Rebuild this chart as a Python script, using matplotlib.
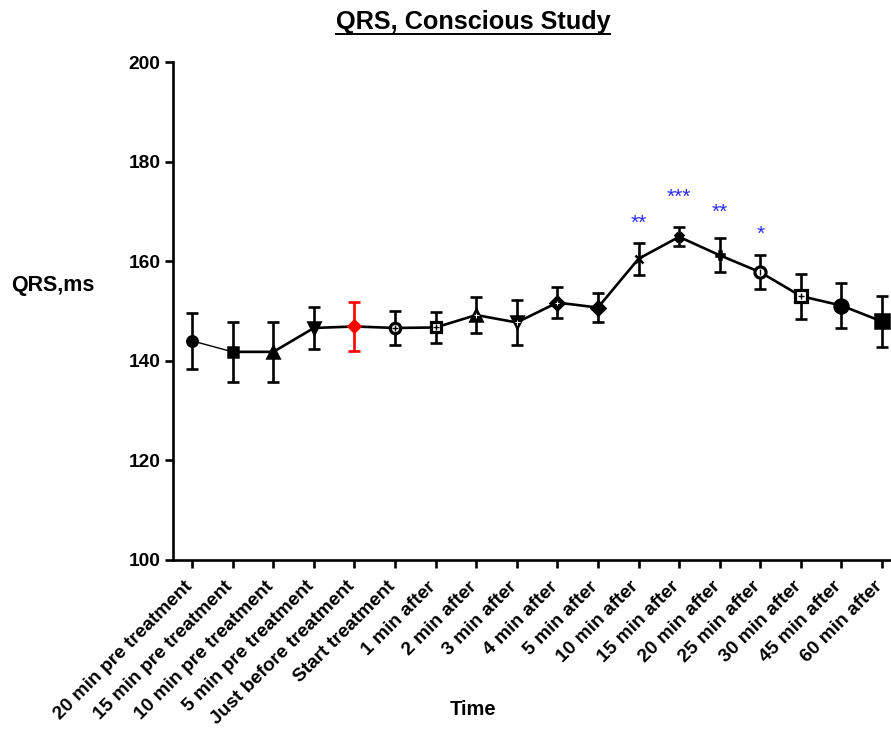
"""QRS duration over the conscious study timeline, mean +/- SEM per time point."""

import matplotlib

matplotlib.use("Agg")
import matplotlib.pyplot as plt
from matplotlib.lines import Line2D
from matplotlib.transforms import ScaledTranslation

plt.rcParams["font.family"] = ["Liberation Sans", "DejaVu Sans"]
plt.rcParams["font.weight"] = "bold"

time_points = [
    "20 min pre treatment", "15 min pre treatment", "10 min pre treatment",
    "5 min pre treatment", "Just before treatment", "Start treatment",
    "1 min after", "2 min after", "3 min after", "4 min after", "5 min after",
    "10 min after", "15 min after", "20 min after", "25 min after",
    "30 min after", "45 min after", "60 min after",
]
qrs_mean = [144.0, 141.8, 141.8, 146.6, 146.9, 146.6, 146.7, 149.2, 147.7,
            151.7, 150.7, 160.5, 164.9, 161.2, 157.8, 153.0, 151.1, 147.9]
qrs_sem = [5.6, 6.0, 6.0, 4.2, 5.0, 3.4, 3.2, 3.7, 4.5,
           3.1, 3.0, 3.2, 1.9, 3.4, 3.4, 4.5, 4.6, 5.1]

# significance marks vs. baseline: (index, label, label baseline in ms)
sig_idx = [11, 12, 13, 14]
sig_text = ["**", "***", "**", "*"]
sig_y = [166.5, 171.7, 168.7, 164.3]

# (marker, size, face, edge, overlay marker)
marker_style = [
    ("o", 7.5, "black", "black", None),
    ("s", 7, "black", "black", None),
    ("^", 8, "black", "black", None),
    ("v", 8, "black", "black", None),
    ("D", 6.5, "red", "red", None),
    ("o", 7.5, "white", "black", "+"),
    ("s", 7, "white", "black", "+"),
    ("^", 8, "black", "black", "+w"),
    ("v", 8, "black", "black", "+w"),
    ("D", 7, "black", "black", "+w"),
    ("D", 7, "black", "black", None),
    ("x", 6, "black", "black", None),
    ("X", 6, "black", "black", None),
    ("P", 6, "black", "black", None),
    ("o", 8, "white", "black", "|"),
    ("s", 8, "white", "black", "+"),
    ("o", 10, "black", "black", None),
    ("s", 9.5, "black", "black", None),
]

x = list(range(len(time_points)))

fig = plt.figure(figsize=(8.91, 7.31), dpi=100)
ax = fig.add_axes([0.194, 0.234, 0.805, 0.681])

# connecting line; the first segment is drawn thinner
ax.plot(x[:2], qrs_mean[:2], color="black", lw=1.0, zorder=2)
ax.plot(x[1:], qrs_mean[1:], color="black", lw=1.9, zorder=2)

for i, (m, ms, fc, ec, over) in enumerate(marker_style):
    col = "red" if fc == "red" else "black"
    ax.errorbar(x[i], qrs_mean[i], yerr=qrs_sem[i], fmt="none", ecolor=col,
                elinewidth=1.9, capsize=4.3, capthick=1.9, zorder=3)
    ax.plot(x[i], qrs_mean[i], marker=m, ms=ms, mfc=fc, mec=ec,
            mew=2.3 if fc == "white" else 1.8, linestyle="none", zorder=4)
    if over == "+":
        ax.plot(x[i], qrs_mean[i], marker="+", ms=ms * 0.6, color="black",
                mew=1.0, linestyle="none", zorder=5)
    elif over == "+w":
        ax.plot(x[i], qrs_mean[i], marker="+", ms=ms * 0.45, color="white",
                mew=0.7, linestyle="none", zorder=5)
    elif over == "|":
        ax.plot(x[i], qrs_mean[i], marker="|", ms=ms * 0.6, color="black",
                mew=1.0, linestyle="none", zorder=5)

for i, t, y in zip(sig_idx, sig_text, sig_y):
    ax.text(x[i], y, t, color="#2b2bff", fontsize=15, fontweight="normal",
            ha="center", va="baseline")

ax.set_xlim(-0.476, 17.2)
ax.set_ylim(100, 200)
ax.set_yticks([100, 120, 140, 160, 180, 200])
ax.set_xticks(x)

ax.spines["top"].set_visible(False)
ax.spines["right"].set_visible(False)
for s in ("left", "bottom"):
    ax.spines[s].set_linewidth(1.9)
ax.tick_params(axis="both", direction="out", length=6, width=1.9, pad=3)

ax.set_xticklabels(time_points, rotation=45, ha="right", va="top",
                   rotation_mode="anchor")
shift = ScaledTranslation(-6 / 72, -4 / 72, fig.dpi_scale_trans)
for lab in ax.get_xticklabels():
    lab.set_fontsize(13.8)
    lab.set_fontweight("bold")
    lab.set_transform(lab.get_transform() + shift)
for lab in ax.get_yticklabels():
    lab.set_fontsize(13.8)
    lab.set_fontweight("bold")

title = fig.text(0.531, 0.960, "QRS, Conscious Study", fontsize=18.2,
                 fontweight="bold", ha="center", va="baseline")
ax.set_xlabel("Time", fontsize=14.5, fontweight="bold")
ax.xaxis.set_label_coords(0.418, -0.281)
ax.set_ylabel("QRS,ms", fontsize=15.5, fontweight="bold", rotation=0,
              ha="center", va="center")
ax.yaxis.set_label_coords(-0.167, 0.552)

# underline the title
fig.canvas.draw()
bb = title.get_window_extent().transformed(fig.transFigure.inverted())
uy = 0.960 - 0.0065
fig.add_artist(Line2D([bb.x0, bb.x1], [uy, uy], color="black", lw=1.4,
                      transform=fig.transFigure))

fig.savefig("out.png", dpi=100)
